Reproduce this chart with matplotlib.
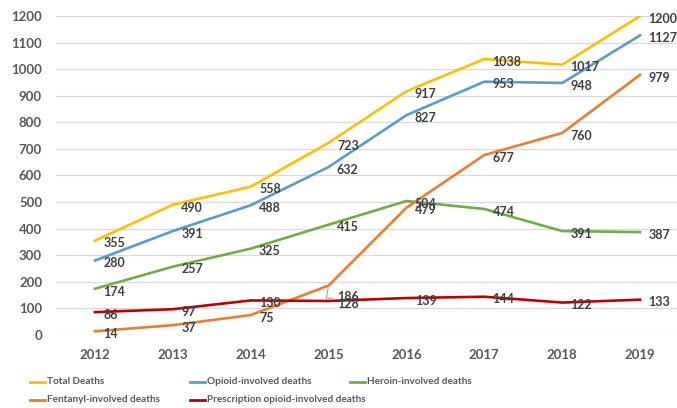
import matplotlib
matplotlib.use("Agg")
import matplotlib.pyplot as plt
from matplotlib.lines import Line2D

plt.rcParams['font.family'] = ['Lato', 'DejaVu Sans']

# data
years = ["2012", "2013", "2014", "2015", "2016", "2017", "2018", "2019"]
total = [355, 490, 558, 723, 917, 1038, 1017, 1200]
opioid = [280, 391, 488, 632, 827, 953, 948, 1127]
heroin = [174, 257, 325, 415, 504, 474, 391, 387]
fentanyl = [14, 37, 75, 186, 479, 677, 760, 979]
prescription = [86, 97, 130, 128, 139, 144, 122, 133]
yticks = [0, 100, 200, 300, 400, 500, 600, 700, 800, 900, 1000, 1100, 1200]

names = ["Total Deaths", "Opioid-involved deaths", "Heroin-involved deaths",
         "Fentanyl-involved deaths", "Prescription opioid-involved deaths"]
series = [total, opioid, heroin, fentanyl, prescription]
colors = ["#FFC000", "#5B9BD5", "#70AD47", "#ED7D31", "#C00000"]

W, H = 677, 408
fig = plt.figure(figsize=(W / 100, H / 100), dpi=100)
ax = fig.add_axes([56 / W, 73 / H, 623 / W, 319 / H])

x = list(range(len(years)))
for vals, c, n in zip(series, colors, names):
    ax.plot(x, vals, color=c, lw=1.9, label=n, solid_joinstyle="round")
    for i, v in enumerate(vals):
        dx, dy = 6, -2
        if n.startswith("Fentanyl") and years[i] == "2015":
            dx, dy = 6, -8
            ax.annotate("", xy=(i, v), xytext=(5, -9), textcoords="offset points",
                        arrowprops=dict(arrowstyle="-", color="#A6A6A6", lw=0.8,
                                        connectionstyle="angle,angleA=0,angleB=80"))
        ax.annotate(str(v), (i, v), xytext=(dx, dy), textcoords="offset points",
                    ha="left", va="center", fontsize=9, fontweight="bold",
                    color="#404040")

ax.set_xlim(-0.5, len(years) - 0.5)
ax.set_ylim(0, 1200)
ax.set_xticks(x)
ax.set_xticklabels(years)
ax.set_yticks(yticks)
ax.tick_params(length=0, labelsize=9.5, labelcolor="#595959", pad=10)
for lab in ax.get_xticklabels() + ax.get_yticklabels():
    lab.set_fontweight("bold")
ax.grid(axis="y", color="#D9D9D9", lw=0.9)
ax.set_axisbelow(True)
for s in ax.spines.values():
    s.set_visible(False)

# legend laid out in fixed columns like the original
legend_pos = [(30, 382), (190, 382), (350, 382), (30, 400), (190, 400)]
for (lx, ly), c, n in zip(legend_pos, colors, names):
    fig.add_artist(Line2D([lx / W, (lx + 15) / W], [1 - ly / H, 1 - ly / H],
                          color=c, lw=2, transform=fig.transFigure))
    fig.text((lx + 17) / W, 1 - ly / H, n, fontsize=7.2, color="#595959",
             va="center", ha="left", fontweight="bold")

fig.savefig("out.png", dpi=100)
